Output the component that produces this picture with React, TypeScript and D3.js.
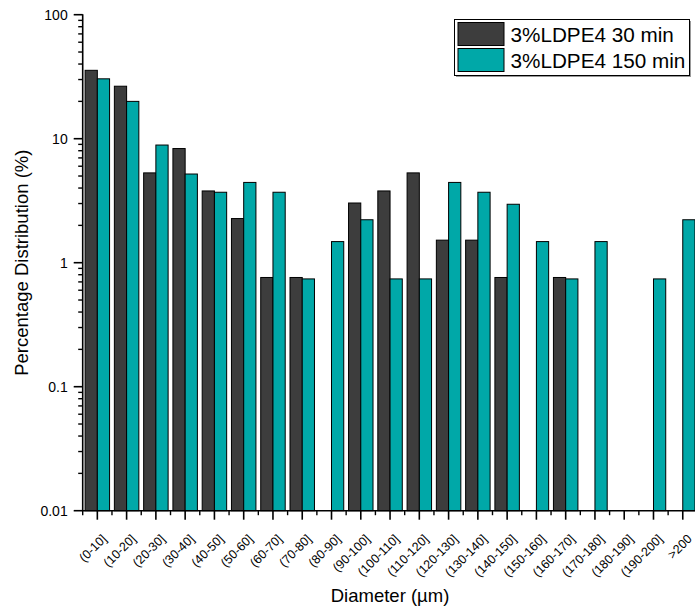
import React from "react";
import * as d3 from "d3";

// Particle size classes (µm)
const categories = [
  "(0-10]", "(10-20]", "(20-30]", "(30-40]", "(40-50]", "(50-60]", "(60-70]",
  "(70-80]", "(80-90]", "(90-100]", "(100-110]", "(110-120]", "(120-130]",
  "(130-140]", "(140-150]", "(150-160]", "(160-170]", "(170-180]", "(180-190]",
  "(190-200]", ">200",
];

// Percentage distribution, 3%LDPE4 after 30 min (null = no particles)
const series30 = [
  35.6, 26.5, 5.30, 8.33, 3.79, 2.27, 0.76, 0.76, null, 3.03, 3.79, 5.30, 1.52,
  1.52, 0.76, null, 0.76, null, null, null, null,
];

// Percentage distribution, 3%LDPE4 after 150 min
const series150 = [
  30.4, 20.0, 8.89, 5.19, 3.70, 4.44, 3.70, 0.74, 1.48, 2.22, 0.74, 0.74, 4.44,
  3.70, 2.96, 1.48, 0.74, 1.48, null, 0.74, 2.22,
];

const yTickValues = [0.01, 0.1, 1, 10, 100];
const yTickLabels = ["0.01", "0.1", "1", "10", "100"];

const seriesNames = ["3%LDPE4 30 min", "3%LDPE4 150 min"];
const seriesColors = ["#3d3d3d", "#00a8a8"];

const FONT = "'Liberation Sans', Arial, Helvetica, sans-serif";

export default function App() {
  const width = 695;
  const height = 613;

  const left = 82.7;
  const right = 697.4;
  const top = 14.7;
  const bottom = 510.7;

  const x = d3.scaleBand<string>().domain(categories).range([left, right]).padding(0);
  const y = d3.scaleLog().domain([0.01, 100]).range([bottom, top]);

  const bw = x.bandwidth();
  const barW = bw * 0.418;

  const minorY: number[] = [];
  for (let e = -2; e < 2; e++) {
    for (let k = 2; k <= 9; k++) minorY.push(k * Math.pow(10, e));
  }

  const bars: { cx: number; v: number; s: number }[] = [];
  categories.forEach((c, i) => {
    const center = (x(c) as number) + bw / 2;
    const a = series30[i];
    const b = series150[i];
    if (a != null) bars.push({ cx: center - barW, v: a, s: 0 });
    if (b != null) bars.push({ cx: center, v: b, s: 1 });
  });

  return (
    <svg
      width={width}
      height={height}
      style={{ position: "absolute", left: 0, top: 0, background: "#fff" }}
      fontFamily={FONT}
    >
      {/* bars */}
      {bars.map((d, i) => (
        <rect
          key={i}
          x={d.cx}
          y={y(d.v)}
          width={barW}
          height={bottom - y(d.v)}
          fill={seriesColors[d.s]}
          stroke="#000"
          strokeWidth={1}
        />
      ))}

      {/* y axis */}
      <line x1={left} x2={left} y1={top - 0.5} y2={bottom} stroke="#000" strokeWidth={1.6} />
      {yTickValues.map((v, i) => (
        <g key={v}>
          <line x1={left - 9} x2={left} y1={y(v)} y2={y(v)} stroke="#000" strokeWidth={1.6} />
          <text
            x={left - 15}
            y={y(v)}
            textAnchor="end"
            dominantBaseline="central"
            fontSize={14}
            fill="#000"
          >
            {yTickLabels[i]}
          </text>
        </g>
      ))}
      {minorY.map((v) => (
        <line key={v} x1={left - 4.5} x2={left} y1={y(v)} y2={y(v)} stroke="#000" strokeWidth={1.4} />
      ))}

      {/* x axis */}
      <line x1={left - 0.8} x2={right} y1={bottom} y2={bottom} stroke="#000" strokeWidth={1.6} />
      {categories.map((c) => {
        const x0 = x(c) as number;
        const center = x0 + bw / 2;
        return (
          <g key={c}>
            <line x1={x0} x2={x0} y1={bottom} y2={bottom + 4.5} stroke="#000" strokeWidth={1.4} />
            <line x1={center} x2={center} y1={bottom} y2={bottom + 9} stroke="#000" strokeWidth={1.6} />
            <text
              transform={`translate(${center + 10},${bottom + 29}) rotate(-45)`}
              textAnchor="end"
              fontSize={12.5}
              fill="#000"
            >
              {c}
            </text>
          </g>
        );
      })}

      {/* axis titles */}
      <text
        transform={`translate(27.5,${(top + bottom) / 2}) rotate(-90)`}
        textAnchor="middle"
        fontSize={18.5}
        fill="#000"
      >
        Percentage Distribution (%)
      </text>
      <text x={(left + right) / 2} y={602} textAnchor="middle" fontSize={18.5} fill="#000">
        Diameter (µm)
      </text>

      {/* legend */}
      <g>
        <rect x={456} y={21} width={235} height={56} fill="#999" />
        <rect x={454.5} y={19.5} width={235} height={56} fill="#fff" stroke="#000" strokeWidth={1} />
        {seriesNames.map((n, i) => (
          <g key={n}>
            <rect
              x={458}
              y={22.5 + i * 26}
              width={46}
              height={23}
              fill={seriesColors[i]}
              stroke="#000"
              strokeWidth={1}
            />
            <text x={510.5} y={41.8 + i * 26} fontSize={20.7} fill="#000">
              {n}
            </text>
          </g>
        ))}
      </g>
    </svg>
  );
}
